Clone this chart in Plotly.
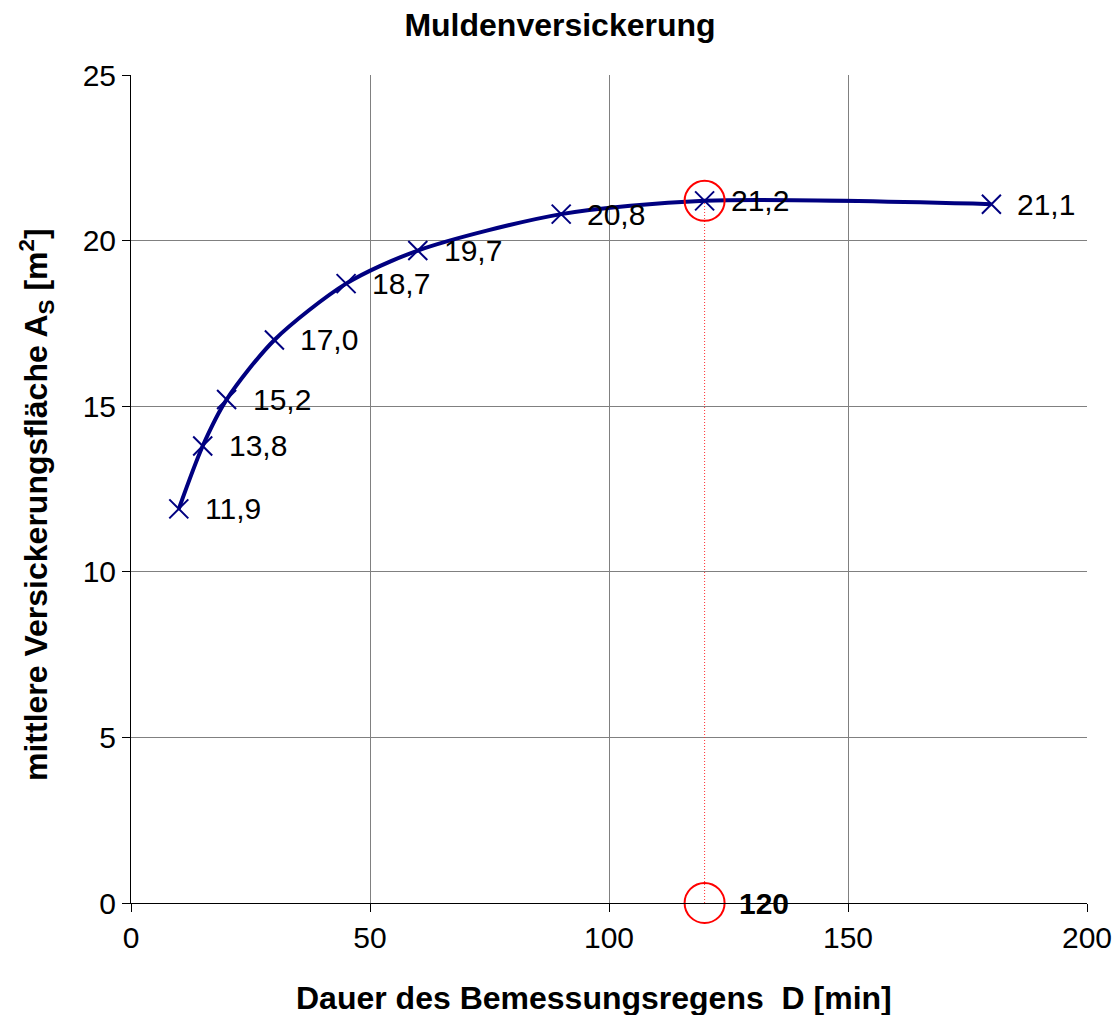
import plotly.graph_objects as go

# Data
durations = [10, 15, 20, 30, 45, 60, 90, 120, 180]
areas = [11.9, 13.8, 15.2, 17.0, 18.7, 19.7, 20.8, 21.2, 21.1]
labels = ["11,9", "13,8", "15,2", "17,0", "18,7", "19,7", "20,8", "21,2", "21,1"]
design_d = 120
design_a = 21.2
design_label = "120"

FONT = "Liberation Sans, Arial, sans-serif"
NAVY = "#000080"

L, R, T, B = 131, 33, 75, 112
W, H = 1120, 1015
PW, PH = W - L - R, H - T - B

fig = go.Figure()

# dotted red vertical line
fig.add_trace(go.Scatter(
    x=[design_d, design_d], y=[0, design_a], mode="lines",
    line=dict(color="#ff3030", width=1, dash="1px,2px"), hoverinfo="skip", showlegend=False))

# main curve
fig.add_trace(go.Scatter(
    x=durations, y=areas, mode="lines+markers",
    line=dict(color=NAVY, width=4, shape="spline", smoothing=0.8),
    marker=dict(symbol="x-thin", size=19, line=dict(color=NAVY, width=2), color=NAVY),
    showlegend=False))

# red circles
fig.add_trace(go.Scatter(
    x=[design_d, design_d], y=[design_a, 0], mode="markers",
    marker=dict(symbol="circle-open", size=40, line=dict(color="red", width=2), color="red"),
    cliponaxis=False, showlegend=False))

for xv, yv, t in zip(durations, areas, labels):
    fig.add_annotation(x=xv, y=yv, text=t, showarrow=False, xanchor="left", yanchor="middle",
                       xshift=24, font=dict(family=FONT, size=30, color="black"))

fig.add_annotation(x=design_d, y=0, text="<b>" + design_label + "</b>", showarrow=False,
                   xanchor="left", yanchor="middle", xshift=32,
                   font=dict(family=FONT, size=30, color="black"))

# axis titles as annotations for precise placement
fig.add_annotation(xref="paper", yref="paper", x=(594 - L) / PW, y=(H - B - 998) / PH,
                   text="<b>Dauer des Bemessungsregens  D [min]</b>", showarrow=False,
                   xanchor="center", yanchor="middle", font=dict(family=FONT, size=32))
fig.add_annotation(xref="paper", yref="paper", x=(36 - L) / PW, y=(H - B - 505) / PH,
                   text="<b>mittlere Versickerungsfläche A<sub>S</sub> [m<sup>2</sup>]</b>",
                   showarrow=False, textangle=-90,
                   xanchor="center", yanchor="middle", font=dict(family=FONT, size=32))

fig.update_layout(
    width=W, height=H,
    margin=dict(l=L, r=R, t=T, b=B, autoexpand=False),
    paper_bgcolor="white", plot_bgcolor="white",
    font=dict(family=FONT, size=30, color="black"),
    title=dict(text="<b>Muldenversickerung</b>", x=0.5, xref="container", xanchor="center",
               y=1 - 25 / H, yanchor="middle", font=dict(family=FONT, size=32)),
)

fig.update_xaxes(
    range=[0, 200], tickvals=[0, 50, 100, 150, 200], ticks="outside", ticklen=8,
    tickcolor="black", showline=True, linecolor="black", linewidth=1,
    showgrid=True, gridcolor="#808080", gridwidth=1, zeroline=False, automargin=False,
    tickfont=dict(family=FONT, size=30))

fig.update_yaxes(
    range=[0, 25], tickvals=[0, 5, 10, 15, 20, 25], ticks="outside", ticklen=8,
    tickcolor="black", showline=True, linecolor="black", linewidth=1,
    showgrid=True, gridcolor="#808080", gridwidth=1, zeroline=False, automargin=False,
    tickfont=dict(family=FONT, size=30))

fig.write_html("out.html")
